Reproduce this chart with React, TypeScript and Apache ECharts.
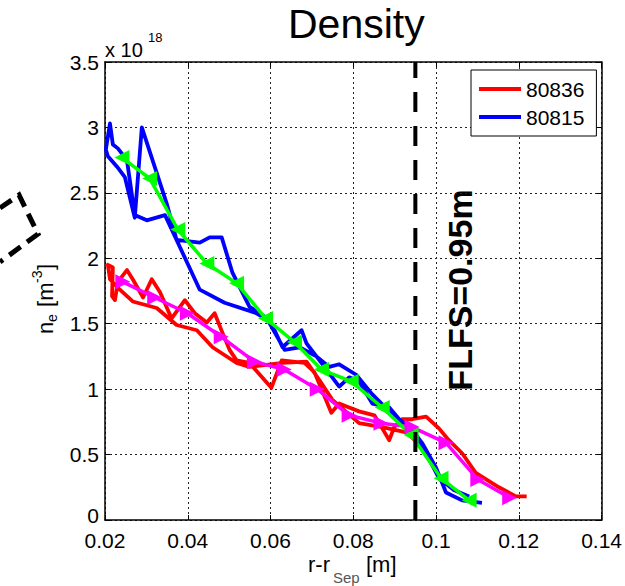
import React, { useEffect, useRef } from "react";
import * as echarts from "echarts";

// ---- data ----
const xTicks = [0.02, 0.04, 0.06, 0.08, 0.1, 0.12, 0.14];
const yTicks = [0, 0.5, 1, 1.5, 2, 2.5, 3, 3.5];

// raw 80836 (probe sweep, in and out)
const redX = [0.1219,0.1193,0.1152,0.1096,0.1063,0.1031,0.1007,0.0976,0.0942,0.0918,0.0899,0.0887,0.0870,0.0851,0.0814,0.0790,0.0766,0.0747,0.0706,0.0682,0.0627,0.0602,0.0549,0.0518,0.0501,0.0484,0.0465,0.0446,0.0417,0.0393,0.0361,0.0333,0.0313,0.0292,0.0267,0.0253,0.0231,0.0224,0.0217,0.0219,0.0207,0.0212,0.0236,0.0267,0.0325,0.0373,0.0422,0.0460,0.0518,0.0549,0.0629,0.0687,0.0718,0.0749,0.0814,0.0870,0.0928,0.0966];
const redY = [0.18,0.18,0.25,0.36,0.51,0.61,0.70,0.79,0.77,0.77,0.71,0.61,0.70,0.80,0.83,0.86,0.89,0.82,1.13,1.20,1.22,1.01,1.20,1.22,1.30,1.43,1.58,1.51,1.58,1.68,1.54,1.74,1.84,1.70,1.84,1.91,1.82,1.68,1.71,1.93,1.95,1.84,1.76,1.67,1.62,1.49,1.45,1.32,1.20,1.17,1.20,1.21,1.07,0.92,0.74,0.71,0.67,0.56];

// raw 80815
const blueX = [0.1111,0.1063,0.1024,0.1000,0.0966,0.0942,0.0911,0.0887,0.0846,0.0814,0.0790,0.0766,0.0723,0.0687,0.0675,0.0629,0.0598,0.0549,0.0508,0.0482,0.0453,0.0429,0.0373,0.0345,0.0301,0.0272,0.0253,0.0231,0.0219,0.0212,0.0202,0.0207,0.0229,0.0248,0.0272,0.0289,0.0320,0.0349,0.0373,0.0429,0.0489,0.0566,0.0593,0.0634,0.0670,0.0711,0.0742,0.0766,0.0807,0.0846,0.0887,0.0935,0.0971,0.1007,0.1043,0.1080];
const blueY = [0.13,0.15,0.21,0.40,0.59,0.69,0.77,0.86,0.89,1.06,1.09,1.02,1.20,1.35,1.45,1.32,1.53,1.63,1.89,2.16,2.16,2.12,2.14,2.33,2.29,2.33,2.75,2.84,2.87,3.03,2.83,2.78,2.70,2.62,2.31,3.00,2.70,2.42,2.14,1.76,1.66,1.58,1.53,1.30,1.32,1.25,1.17,1.19,1.11,0.96,0.83,0.70,0.54,0.32,0.23,0.18];

// smoothed profiles
const greenX = [0.0241,0.0308,0.0376,0.0446,0.0518,0.0588,0.0658,0.0723,0.0795,0.0870,0.0940,0.1012,0.1080];
const greenY = [2.77,2.61,2.22,1.96,1.81,1.54,1.36,1.15,1.06,0.86,0.65,0.32,0.15];
const magentaX = [0.0243,0.0320,0.0399,0.0481,0.0561,0.0633,0.0713,0.0790,0.0867,0.0942,0.1024,0.1101,0.1178];
const magentaY = [1.82,1.70,1.58,1.40,1.21,1.15,1.00,0.80,0.74,0.71,0.59,0.31,0.17];

const flfsX = 0.095;
const legendNames = ["80836", "80815"];

const FONT = "'Liberation Sans', Arial, Helvetica, sans-serif";

const zip = (xs: number[], ys: number[]) => xs.map((x, i) => [x, ys[i]]);

const txt = (text: string, x: number, y: number, fontSize: number, extra: any = {}) => ({
  type: "text",
  x,
  y,
  style: {
    text,
    fontSize,
    fontFamily: FONT,
    fill: "#000",
    align: "left",
    verticalAlign: "middle",
    textAlign: "left",
    textVerticalAlign: "middle",
    ...extra,
  },
});

export default function App() {
  const ref = useRef<HTMLDivElement>(null);
  useEffect(() => {
    document.body.style.margin = "0";
    if (!ref.current) return;
    const chart = echarts.init(ref.current, null, { renderer: "svg" });
    const fmt = (v: number) => String(parseFloat(v.toFixed(3)));
    const fmtY = (v: number) => (v === 0 ? "{z|0}" : fmt(v));
    const xMin = xTicks[0], xMax = xTicks[xTicks.length - 1];
    const yMin = yTicks[0], yMax = yTicks[yTicks.length - 1];
    const axisLine = { show: true, onZero: false, lineStyle: { color: "#000", width: 1.5 } };
    const tick = { show: true, inside: true, length: 5, lineStyle: { color: "#000", width: 1 } };
    const split = { show: true, lineStyle: { color: "#222", width: 1, type: [2, 3] } };
    const option: any = {
      animation: false,
      backgroundColor: "#fff",
      textStyle: { fontFamily: FONT },
      title: {
        text: "Density",
        left: 283,
        top: -2,
        textStyle: { fontSize: 41, fontWeight: "normal", color: "#000", fontFamily: FONT },
      },
      grid: { left: 105, top: 62, right: 22, bottom: 66, containLabel: false },
      legend: {
        data: legendNames.map((n) => ({ name: n, icon: "rect" })),
        orient: "vertical",
        left: 471,
        top: 70,
        itemWidth: 42,
        itemHeight: 4,
        itemGap: 6,
        itemTextGap: 5,
        padding: [8, 12, 8, 8],
        borderColor: "#000",
        borderWidth: 1,
        borderRadius: 0,
        backgroundColor: "#fff",
        textStyle: { fontSize: 21, color: "#000", lineHeight: 22, fontFamily: FONT },
      },
      xAxis: [
        {
          type: "value", min: xMin, max: xMax, interval: 0.02, position: "bottom",
          axisLine, axisTick: tick, splitLine: split,
          axisLabel: { fontSize: 21, lineHeight: 16, color: "#000", margin: 12, formatter: fmt, showMinLabel: true, showMaxLabel: true, fontFamily: FONT },
        },
        {
          type: "value", min: xMin, max: xMax, interval: 0.02, position: "top",
          axisLine, axisTick: tick, splitLine: { show: false }, axisLabel: { show: false },
        },
      ],
      yAxis: [
        {
          type: "value", min: yMin, max: yMax, interval: 0.5, position: "left",
          axisLine, axisTick: tick, splitLine: split,
          axisLabel: {
            fontSize: 21, lineHeight: 16, color: "#000", margin: 6, formatter: fmtY, showMinLabel: true, showMaxLabel: true, fontFamily: FONT,
            rich: { z: { fontSize: 21, lineHeight: 16, color: "#000", fontFamily: FONT, padding: [0, 0, 10, 0] } },
          },
        },
        {
          type: "value", min: yMin, max: yMax, interval: 0.5, position: "right",
          axisLine, axisTick: tick, splitLine: { show: false }, axisLabel: { show: false },
        },
      ],
      series: [
        {
          name: legendNames[0], type: "line", data: zip(redX, redY), symbol: "none",
          lineStyle: { color: "#ff0000", width: 3.8, join: "round" }, itemStyle: { color: "#ff0000" }, z: 2,
        },
        {
          name: legendNames[1], type: "line", data: zip(blueX, blueY), symbol: "none",
          lineStyle: { color: "#0000ff", width: 3.8, join: "round" }, itemStyle: { color: "#0000ff" }, z: 2,
        },
        {
          name: "fit 80836", type: "line", data: zip(magentaX, magentaY), symbol: "triangle", symbolSize: 15, symbolRotate: -90,
          lineStyle: { color: "#ff00ff", width: 3.5 }, itemStyle: { color: "#ff00ff" }, z: 3,
        },
        {
          name: "fit 80815", type: "line", data: zip(greenX, greenY), symbol: "triangle", symbolSize: 15, symbolRotate: 90,
          lineStyle: { color: "#00ff00", width: 3.5 }, itemStyle: { color: "#00ff00" }, z: 3,
        },
        {
          name: "FLFS", type: "line", data: [[flfsX, yMin], [flfsX, yMax]], symbol: "none",
          lineStyle: { color: "#000", width: 4, type: [20, 14] }, z: 4,
        },
      ],
      graphic: [
        txt("x 10", 105, 50, 20),
        txt("18", 148, 37, 13),
        {
          type: "text", x: 460, y: 290, rotation: Math.PI / 2,
          style: { text: "FLFS=0.95m", fontSize: 34, fontWeight: "bold", fontFamily: FONT, fill: "#000", align: "center", verticalAlign: "middle", textAlign: "center", textVerticalAlign: "middle" },
        },
        {
          type: "group", x: 0, y: 0,
          children: [
            txt("r-r", 308, 564, 22),
            txt("Sep", 333, 577, 15, { fill: "#555" }),
            txt("[m]", 366, 564, 22),
          ],
        },
        {
          type: "group", x: 45, y: 334, rotation: Math.PI / 2,
          children: [
            txt("n", 0, 0, 22),
            txt("e", 12, 7, 14),
            txt(" [m", 21, 0, 22),
            txt("-3", 51, -8, 14),
            txt("]", 64, 0, 22),
          ],
        },
        {
          type: "polyline",
          shape: { points: [[0, 208], [19, 195], [38, 234], [0, 262]] },
          style: { stroke: "#000", lineWidth: 5, lineDash: [14, 8], fill: null },
        },
      ],
    };
    chart.setOption(option);
    return () => chart.dispose();
  }, []);
  return <div ref={ref} style={{ width: 625, height: 586 }} />;
}
